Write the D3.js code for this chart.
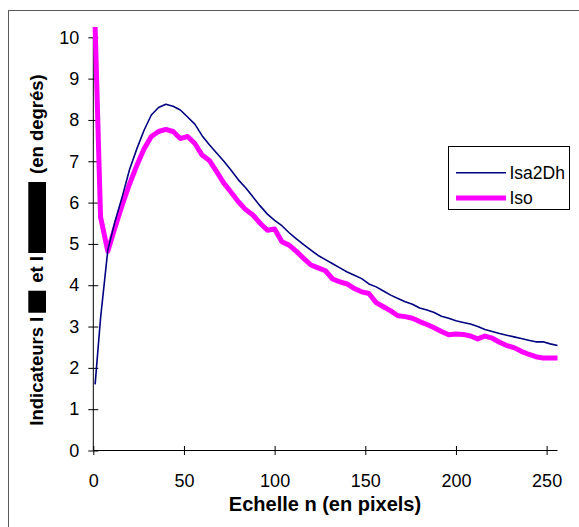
<!DOCTYPE html>
<html>
<head>
<meta charset="utf-8">
<script src="https://cdn.jsdelivr.net/npm/d3@7"></script>
<style>
  html, body { margin: 0; padding: 0; background: #fff; }
  svg { display: block; font-family: "Liberation Sans", Arial, sans-serif; }
</style>
</head>
<body>
<svg id="chart" width="579" height="527"></svg>
<script>
// ---- data ----
const scaleN = [1,4,8,12,16,20,24,28,32,36,40,44,48,52,56,60,64,68,72,76,80,84,88,92,96,100,
  104,108,112,116,120,124,128,132,136,140,144,148,152,156,160,164,168,172,176,180,184,188,192,196,200,
  204,208,212,216,220,224,228,232,236,240,244,248,252,256];
const isa2Dh = [1.6,3.2,4.85,5.55,6.15,6.8,7.3,7.75,8.12,8.3,8.38,8.33,8.24,8.07,7.9,7.62,7.4,7.2,7.0,6.78,
  6.55,6.36,6.14,5.92,5.72,5.57,5.44,5.27,5.12,4.98,4.85,4.72,4.62,4.52,4.42,4.32,4.24,4.16,4.03,3.96,
  3.86,3.76,3.68,3.6,3.54,3.45,3.4,3.34,3.25,3.2,3.14,3.1,3.06,3.0,2.93,2.88,2.83,2.79,2.75,2.71,
  2.67,2.63,2.63,2.58,2.54];
const iso = [10.25,5.65,4.82,5.4,5.95,6.45,6.9,7.3,7.6,7.72,7.77,7.72,7.55,7.6,7.43,7.15,7.02,6.75,6.47,6.25,
  6.02,5.83,5.7,5.5,5.33,5.36,5.05,4.97,4.82,4.65,4.49,4.42,4.35,4.15,4.08,4.03,3.92,3.84,3.8,3.58,
  3.48,3.38,3.26,3.24,3.2,3.12,3.05,2.97,2.88,2.8,2.82,2.81,2.77,2.7,2.77,2.72,2.62,2.54,2.49,2.4,
  2.33,2.27,2.24,2.24,2.24];
const xTicks = [0,50,100,150,200,250];
const yTicks = [0,1,2,3,4,5,6,7,8,9,10];
const seriesNames = ["Isa2Dh", "Iso"];
const xTitle = "Echelle n (en pixels)";
const yTitleParts = ["Indicateurs I", "et I", "(en degrés)"];

// ---- drawing ----
const svg = d3.select("#chart");
const x = d3.scaleLinear().domain([0, 256]).range([93.3, 557.5]);
const y = d3.scaleLinear().domain([0, 10]).range([450.5, 37.3]);

// outer frame (only top/left visible)
svg.append("rect").attr("x", 8.5).attr("y", 10.5).attr("width", 700).attr("height", 700)
  .attr("fill", "none").attr("stroke", "#5a5a5a").attr("stroke-width", 1);

// y axis
const yAxis = svg.append("g").attr("transform", `translate(${x(0)},0)`)
  .call(d3.axisLeft(y).tickValues(yTicks).tickSize(5).tickPadding(9).tickFormat(d3.format("d")));
yAxis.selectAll(".tick line").attr("x2", -5).attr("x1", 5).attr("stroke", "#000");
yAxis.select(".domain").attr("d", `M0,${y(0)}V${y(10)}`).attr("stroke", "#000");
yAxis.selectAll("text").attr("font-size", 18).attr("fill", "#000")
  .attr("font-family", "Liberation Sans, Arial, sans-serif").attr("x", -14);

// x axis
const xAxis = svg.append("g").attr("transform", `translate(0,${y(0)})`)
  .call(d3.axisBottom(x).tickValues(xTicks).tickSize(4.5).tickPadding(19).tickFormat(d3.format("d")));
xAxis.selectAll(".tick line").attr("y1", -4.5).attr("y2", 4.5).attr("stroke", "#000");
xAxis.select(".domain").attr("d", `M${x(0)},0H${x(256)}`).attr("stroke", "#000");
xAxis.selectAll("text").attr("font-size", 18).attr("fill", "#000")
  .attr("font-family", "Liberation Sans, Arial, sans-serif").attr("dy", 0).attr("y", 36);

// lines
const line = d3.line().x((d, i) => x(scaleN[i])).y(d => y(d));
svg.append("path").datum(iso).attr("d", line).attr("fill", "none")
  .attr("stroke", "#ff00ff").attr("stroke-width", 5).attr("stroke-linejoin", "round");
svg.append("path").datum(isa2Dh).attr("d", line).attr("fill", "none")
  .attr("stroke", "#000080").attr("stroke-width", 1.6).attr("stroke-linejoin", "round");

// x title
svg.append("text").attr("x", 325).attr("y", 510.5).attr("text-anchor", "middle")
  .attr("font-size", 20).attr("font-weight", "bold").attr("fill", "#000").text(xTitle);

// y title with redacted blocks
const yg = svg.append("g");
const fs = 18.5;
const pieces = [
  {type: "text", v: yTitleParts[0]},
  {type: "gap", v: 4},
  {type: "rect", v: 22},
  {type: "gap", v: 8},
  {type: "text", v: yTitleParts[1]},
  {type: "gap", v: 3},
  {type: "rect", v: 71},
  {type: "gap", v: 8},
  {type: "text", v: yTitleParts[2]}
];
let pos = 0;
pieces.forEach(p => {
  if (p.type === "text") {
    const t = yg.append("text").attr("x", pos).attr("y", 0).attr("font-size", fs)
      .attr("font-weight", "bold").attr("fill", "#000").text(p.v);
    pos += t.node().getComputedTextLength();
  } else if (p.type === "rect") {
    yg.append("rect").attr("x", pos).attr("y", -14.2).attr("width", p.v).attr("height", 17.7).attr("fill", "#000");
    pos += p.v;
  } else pos += p.v;
});
const centerY = 250;
yg.attr("transform", `translate(42.5,${centerY + pos / 2}) rotate(-90)`);

// legend
const lg = svg.append("g");
lg.append("rect").attr("x", 448.5).attr("y", 146.5).attr("width", 121).attr("height", 63)
  .attr("fill", "#fff").attr("stroke", "#000").attr("stroke-width", 1);
const legendItems = [
  {name: seriesNames[0], color: "#000080", w: 1.6, yy: 172.7},
  {name: seriesNames[1], color: "#ff00ff", w: 5, yy: 198}
];
legendItems.forEach(it => {
  lg.append("line").attr("x1", 456).attr("x2", 506).attr("y1", it.yy).attr("y2", it.yy)
    .attr("stroke", it.color).attr("stroke-width", it.w);
  lg.append("text").attr("x", 509.5).attr("y", it.yy + 6.2).attr("font-size", 17.5)
    .attr("fill", "#000").text(it.name);
});
</script>
</body>
</html>
